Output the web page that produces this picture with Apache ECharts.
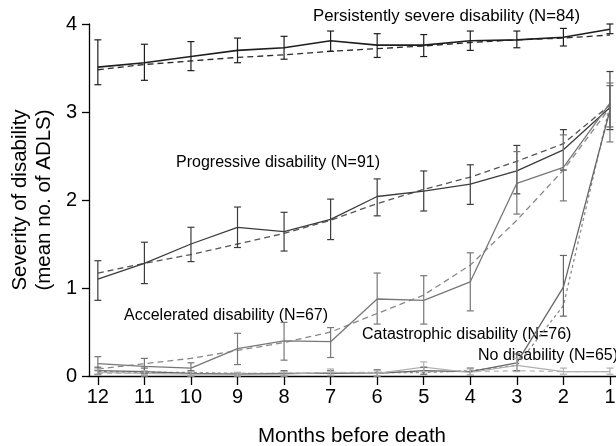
<!DOCTYPE html>
<html><head><meta charset="utf-8">
<script src="https://cdn.jsdelivr.net/npm/echarts@6/dist/echarts.min.js"></script>
<style>html,body{margin:0;padding:0;background:#fff}#c{width:616px;height:446px}</style>
</head><body><div id="c"></div>
<script>
var months = [12, 11, 10, 9, 8, 7, 6, 5, 4, 3, 2, 1];
var yTicks = [0, 1, 2, 3, 4];

var severeMean = [3.51, 3.56, 3.63, 3.70, 3.73, 3.81, 3.76, 3.76, 3.81, 3.82, 3.85, 3.94];
var severeLow  = [3.31, 3.36, 3.47, 3.56, 3.60, 3.69, 3.62, 3.63, 3.70, 3.73, 3.75, 3.89];
var severeHigh = [3.82, 3.77, 3.80, 3.84, 3.86, 3.92, 3.89, 3.88, 3.92, 3.92, 3.95, 4.00];
var severeFit  = [3.48, 3.54, 3.58, 3.62, 3.65, 3.69, 3.72, 3.75, 3.79, 3.82, 3.84, 3.875];

var progMean = [1.10, 1.28, 1.50, 1.69, 1.64, 1.78, 2.04, 2.10, 2.18, 2.33, 2.57, 3.05];
var progLow  = [0.86, 1.05, 1.30, 1.46, 1.42, 1.55, 1.82, 1.875, 1.95, 2.07, 2.34, 2.80];
var progHigh = [1.31, 1.52, 1.69, 1.92, 1.86, 2.01, 2.24, 2.33, 2.40, 2.62, 2.80, 3.46];
var progFit  = [1.17, 1.28, 1.38, 1.50, 1.62, 1.77, 1.96, 2.12, 2.26, 2.44, 2.64, 3.08];

var accMean = [0.14, 0.11, 0.09, 0.31, 0.40, 0.39, 0.875, 0.86, 1.07, 2.19, 2.37, 3.10];
var accLow  = [0.06, 0.03, 0.03, 0.13, 0.18, 0.21, 0.59, 0.59, 0.74, 1.84, 1.99, 2.66];
var accHigh = [0.22, 0.20, 0.15, 0.485, 0.61, 0.55, 1.17, 1.14, 1.40, 2.55, 2.74, 3.33];
var accFit  = [0.08, 0.14, 0.20, 0.29, 0.38, 0.50, 0.71, 0.92, 1.26, 1.77, 2.34, 3.05];

var catMean = [0.06, 0.05, 0.03, 0.02, 0.03, 0.03, 0.03, 0.06, 0.05, 0.15, 1.01, 3.02];
var catLow  = [0.02, 0.01, 0.00, 0.00, 0.00, 0.00, 0.00, 0.02, 0.01, 0.06, 0.68, 2.83];
var catHigh = [0.10, 0.09, 0.06, 0.04, 0.06, 0.06, 0.07, 0.10, 0.09, 0.25, 1.37, 3.30];
var catFit  = [0.05, 0.04, 0.04, 0.03, 0.03, 0.03, 0.04, 0.04, 0.06, 0.12, 0.80, 3.08];

var noneMean = [0.04, 0.03, 0.02, 0.02, 0.02, 0.04, 0.03, 0.10, 0.04, 0.12, 0.05, 0.05];
var noneLow  = [0.01, 0.00, 0.00, 0.00, 0.00, 0.01, 0.00, 0.05, 0.01, 0.05, 0.02, 0.02];
var noneHigh = [0.08, 0.06, 0.05, 0.04, 0.05, 0.08, 0.06, 0.16, 0.08, 0.20, 0.09, 0.09];
var noneFit  = [0.03, 0.03, 0.03, 0.03, 0.03, 0.04, 0.04, 0.05, 0.05, 0.06, 0.05, 0.05];

var groups = [
  {name: 'Persistently severe disability (N=84)', mean: severeMean, low: severeLow, high: severeHigh, fit: severeFit, color: '#1e1e1e', fitColor: '#2a2a2a', width: 1.6, dash: [6, 4]},
  {name: 'Progressive disability (N=91)', mean: progMean, low: progLow, high: progHigh, fit: progFit, color: '#3c3c3c', fitColor: '#555555', width: 1.3, dash: [6, 4]},
  {name: 'Accelerated disability (N=67)', mean: accMean, low: accLow, high: accHigh, fit: accFit, color: '#777777', fitColor: '#888888', width: 1.3, dash: [6, 4]},
  {name: 'Catastrophic disability (N=76)', mean: catMean, low: catLow, high: catHigh, fit: catFit, color: '#666666', fitColor: '#8a8a8a', width: 1.3, dash: [3, 3]},
  {name: 'No disability (N=65)', mean: noneMean, low: noneLow, high: noneHigh, fit: noneFit, color: '#b0b0b0', fitColor: '#bbbbbb', width: 1.2, dash: [5, 4]}
];

function pairs(arr) { return months.map(function (m, i) { return [m, arr[i]]; }); }

var series = [];
groups.forEach(function (g) {
  series.push({
    type: 'line', data: pairs(g.fit), showSymbol: false, silent: true,
    lineStyle: {color: g.fitColor, width: 1.3, type: g.dash}, z: 2
  });
  series.push({
    type: 'line', data: pairs(g.mean), showSymbol: false, silent: true,
    lineStyle: {color: g.color, width: g.width}, z: 3
  });
  series.push({
    type: 'custom', silent: true, z: 4,
    data: months.map(function (m, i) { return [m, g.low[i], g.high[i]]; }),
    renderItem: function (params, api) {
      var lo = api.coord([api.value(0), api.value(1)]);
      var hi = api.coord([api.value(0), api.value(2)]);
      var w = 3.5;
      var st = {stroke: g.color, lineWidth: 1.2, fill: null};
      return {type: 'group', children: [
        {type: 'line', shape: {x1: lo[0], y1: lo[1], x2: hi[0], y2: hi[1]}, style: st},
        {type: 'line', shape: {x1: lo[0] - w, y1: lo[1], x2: lo[0] + w, y2: lo[1]}, style: st},
        {type: 'line', shape: {x1: hi[0] - w, y1: hi[1], x2: hi[0] + w, y2: hi[1]}, style: st}
      ]};
    },
    encode: {x: 0, y: [1, 2]}
  });
});

var font = 'Liberation Sans, Arial, sans-serif';
var chart = echarts.init(document.getElementById('c'), null, {renderer: 'canvas'});
chart.setOption({
  animation: false,
  backgroundColor: '#fff',
  grid: {left: 89, right: 0, top: 24, bottom: 70, containLabel: false, outerBoundsMode: 'none'},
  xAxis: {
    type: 'value', inverse: true, min: 0.87, max: 12.19,
    axisLine: {show: true, lineStyle: {color: '#000', width: 1.3}},
    axisTick: {show: true, customValues: months, length: 9, inside: false, lineStyle: {color: '#000', width: 1.3}},
    axisLabel: {customValues: months, color: '#000', fontSize: 20, fontFamily: font, margin: 11, hideOverlap: false},
    splitLine: {show: false}
  },
  yAxis: {
    type: 'value', min: 0, max: 4, interval: 1,
    axisLine: {show: true, lineStyle: {color: '#000', width: 1.3}},
    axisTick: {show: true, length: 7, lineStyle: {color: '#000', width: 1.3}},
    axisLabel: {customValues: yTicks, color: '#000', fontSize: 20, fontFamily: font, margin: 12},
    splitLine: {show: false}
  },
  graphic: [
    {type: 'text', x: 20, y: 200, rotation: Math.PI / 2, style: {text: 'Severity of disability', font: '20.5px ' + font, fill: '#000', textAlign: 'center', textVerticalAlign: 'middle'}},
    {type: 'text', x: 44, y: 200, rotation: Math.PI / 2, style: {text: '(mean no. of ADLS)', font: '20.5px ' + font, fill: '#000', textAlign: 'center', textVerticalAlign: 'middle'}},
    {type: 'text', x: 352, y: 436, style: {text: 'Months before death', font: '20.5px ' + font, fill: '#000', textAlign: 'center', textVerticalAlign: 'middle'}},
    {type: 'text', x: 313, y: 16, style: {text: groups[0].name, font: '16.8px ' + font, fill: '#000', textVerticalAlign: 'middle'}},
    {type: 'text', x: 176, y: 163, style: {text: groups[1].name, font: '16px ' + font, fill: '#000', textVerticalAlign: 'middle'}},
    {type: 'text', x: 124, y: 316, style: {text: groups[2].name, font: '16px ' + font, fill: '#000', textVerticalAlign: 'middle'}},
    {type: 'text', x: 362, y: 335, style: {text: groups[3].name, font: '16px ' + font, fill: '#000', textVerticalAlign: 'middle'}},
    {type: 'text', x: 478, y: 356, style: {text: groups[4].name, font: '16px ' + font, fill: '#000', textVerticalAlign: 'middle'}}
  ],
  series: series
});
</script>
</body></html>
